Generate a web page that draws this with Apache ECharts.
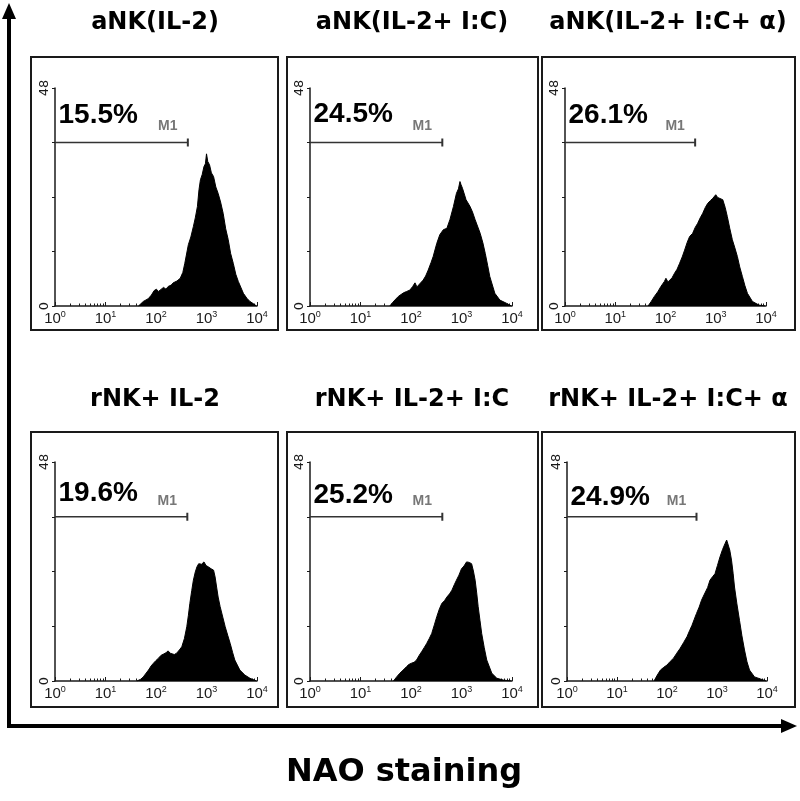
<!DOCTYPE html>
<html>
<head>
<meta charset="utf-8">
<script src="https://cdn.jsdelivr.net/npm/echarts@6/dist/echarts.min.js"></script>
<style>
  html, body { margin: 0; padding: 0; background: #fff; }
  #main { width: 800px; height: 801px; }
</style>
</head>
<body>
<div id="main"></div>
<script>
  // panels, left to right then top to bottom
  var panelNames = ['aNK(IL-2)', 'aNK(IL-2+ I:C)', 'aNK(IL-2+ I:C+ α)', 'rNK+ IL-2', 'rNK+ IL-2+ I:C', 'rNK+ IL-2+ I:C+ α'];
  var gatePercent = ['15.5%', '24.5%', '26.1%', '19.6%', '25.2%', '24.9%'];
  var gateEnd = [427, 417, 389, 417, 417, 389]; // M1 gate runs from 10^0 to here
  var gateLevel = 36;
  var xTicks = [1, 10, 100, 1000, 10000];
  var xMinorTicks = [2, 3, 4, 5, 6, 7, 8, 9, 20, 30, 40, 50, 60, 70, 80, 90,
    200, 300, 400, 500, 600, 700, 800, 900, 2000, 3000, 4000, 5000, 6000, 7000, 8000, 9000];
  var yLabelled = [0, 48];

  // [intensity, events]
  var hist1 = [[45, 0], [56, 1.0], [70, 1.6], [81, 2.4], [92, 3.4], [102, 3.7], [112, 3.2], [120, 3.6], [141, 4.1],
    [158, 3.7], [174, 4.3], [200, 4.6], [219, 5.1], [260, 5.5], [302, 6.1], [340, 7.4], [372, 9.4], [437, 13.5],
    [490, 15.2], [550, 17.5], [600, 19.4], [661, 21.9], [710, 25.6], [759, 27.8], [820, 28.9], [891, 30.7],
    [950, 31.3], [1000, 33.5], [1060, 31.8], [1148, 31.1], [1250, 29.3], [1380, 28.5], [1530, 26.2], [1698, 24.8],
    [1900, 22.9], [2138, 20.4], [2400, 17.0], [2692, 14.6], [3000, 11.6], [3388, 9.4], [3800, 7.0], [4266, 5.4],
    [5370, 2.8], [6300, 1.7], [7244, 1.0], [8500, 0.5], [9772, 0]];
  var hist2 = [[38, 0], [46, 1.1], [56, 2.1], [71, 2.9], [82, 3.2], [95, 3.5], [108, 4.3], [120, 5.1], [131, 4.2],
    [141, 4.4], [174, 5.7], [195, 6.6], [219, 7.9], [250, 9.6], [275, 10.9], [324, 13.8], [372, 15.7], [437, 16.8],
    [470, 16.4], [513, 17.1], [589, 19.0], [692, 21.9], [794, 24.8], [870, 25.8], [933, 27.4], [980, 26.7],
    [1047, 25.9], [1230, 23.4], [1479, 21.9], [1650, 20.7], [1862, 19.0], [2344, 16.0], [2650, 13.9], [2951, 11.6],
    [3300, 8.9], [3631, 6.5], [4571, 2.8], [5754, 1.3], [7762, 0.6], [9772, 0]];
  var hist3 = [[45, 0], [52, 1.0], [60, 2.1], [70, 3.1], [81, 4.3], [95, 5.4], [102, 6.1], [112, 5.3], [120, 5.0],
    [135, 6.2], [151, 7.2], [170, 8.1], [191, 9.4], [215, 10.8], [240, 12.3], [270, 14.0], [302, 15.3], [347, 16.0],
    [390, 17.3], [437, 18.2], [490, 19.4], [550, 20.4], [620, 21.7], [692, 22.6], [780, 23.2], [871, 23.7],
    [940, 24.0], [1000, 24.5], [1090, 23.9], [1175, 24.1], [1380, 23.4], [1540, 21.7], [1698, 19.7], [1900, 17.1],
    [2138, 14.6], [2400, 12.8], [2692, 10.9], [3000, 8.6], [3388, 6.5], [3800, 4.5], [4266, 2.8], [5370, 1.0],
    [7244, 0.2], [9550, 0]];
  var hist4 = [[42, 0], [50, 0.4], [56, 0.9], [71, 2.4], [80, 3.3], [89, 3.9], [100, 4.5], [112, 5.0], [125, 5.6],
    [141, 5.9], [158, 6.2], [174, 6.6], [190, 6.1], [204, 5.7], [230, 5.8], [257, 6.1], [290, 6.8], [324, 7.5],
    [365, 9.3], [407, 11.9], [438, 14.4], [468, 17.0], [510, 19.8], [550, 22.1], [600, 23.9], [646, 25.0],
    [700, 25.7], [741, 25.4], [800, 25.6], [891, 26.1], [980, 25.3], [1096, 25.0], [1230, 24.6], [1380, 24.3],
    [1480, 22.8], [1585, 20.6], [1700, 18.4], [1862, 16.3], [2100, 14.0], [2344, 11.9], [2650, 9.9], [2951, 8.2],
    [3300, 6.2], [3631, 4.6], [4571, 2.4], [5754, 1.3], [7244, 0.6], [9772, 0]];
  var hist5 = [[45, 0], [52, 0.9], [60, 1.7], [70, 2.4], [81, 3.1], [90, 3.6], [102, 3.9], [115, 4.1], [129, 4.6],
    [145, 5.6], [162, 6.4], [182, 7.3], [204, 8.2], [230, 9.3], [257, 10.4], [290, 12.3], [324, 14.1], [365, 15.8],
    [407, 17.0], [460, 17.6], [513, 18.4], [580, 19.1], [646, 19.9], [720, 21.1], [794, 22.1], [890, 23.2],
    [1000, 24.6], [1120, 25.2], [1259, 26.1], [1420, 26.0], [1585, 25.7], [1720, 24.1], [1862, 22.1], [2000, 19.3],
    [2138, 16.3], [2320, 13.3], [2512, 10.4], [2820, 7.3], [3162, 4.6], [3981, 1.7], [5012, 0.6], [6761, 0.2], [9772, 0]];
  var hist6 = [[55, 0], [64, 1.3], [74, 2.4], [86, 3.0], [100, 3.5], [116, 4.3], [135, 5.0], [157, 6.1], [182, 7.1],
    [214, 8.4], [251, 9.7], [282, 11.0], [316, 12.2], [350, 13.5], [389, 14.8], [440, 16.2], [490, 17.7],
    [530, 18.5], [575, 18.8], [650, 20.5], [724, 22.1], [820, 22.9], [912, 23.5], [1020, 25.3], [1148, 27.2],
    [1290, 28.8], [1445, 30.1], [1560, 30.9], [1660, 30.5], [1800, 28.7], [1950, 26.5], [2100, 23.6], [2239, 20.6],
    [2500, 16.9], [2818, 13.3], [3150, 9.9], [3548, 6.8], [3980, 4.2], [4467, 2.4], [5623, 0.9], [7586, 0.4], [9550, 0]];
  var histograms = [hist1, hist2, hist3, hist4, hist5, hist6];

  // layout (px)
  var gridLeft = [55, 310, 565, 55, 310, 567];
  var gridTop = [88, 88, 88, 462, 462, 462];
  var gridWidth = [202, 202, 201, 202, 202, 200];
  var gridHeight = [218, 218, 218, 219, 219, 219];
  var boxLeft = [31, 287, 542, 31, 287, 542];
  var boxTop = [57, 57, 57, 432, 432, 432];
  var boxWidth = [247, 251, 253, 247, 251, 253];
  var boxHeight = [273, 273, 273, 275, 275, 275];
  var titleCenter = [155, 412, 668, 155, 412, 668];
  var titleTop = [11, 11, 11, 388, 388, 388];
  var pctLift = [27, 28, 27, 23, 21, 19];

  var ink = '#1a1a1a';
  var narrow = "'Liberation Sans Narrow', 'Liberation Sans', Arial, sans-serif";
  var bold = "'DejaVu Sans', sans-serif";

  var myChart = echarts.init(document.getElementById('main'));

  var grids = [], xAxes = [], yAxes = [], series = [], titles = [], graphics = [];

  for (var i = 0; i < 6; i++) {
    grids.push({ left: gridLeft[i], top: gridTop[i], width: gridWidth[i], height: gridHeight[i], containLabel: false });

    titles.push({
      text: panelNames[i], left: titleCenter[i], top: titleTop[i], textAlign: 'center', padding: 0,
      textStyle: { fontFamily: bold, fontWeight: 'bold', fontSize: 24, color: '#000' }
    });

    // decades + labels
    xAxes.push({
      type: 'log', logBase: 10, gridIndex: i, min: 1, max: 10000, position: 'bottom',
      axisLine: { show: true, onZero: false, lineStyle: { color: ink, width: 1.5 } },
      axisTick: { show: true, inside: true, length: 4, customValues: xTicks, lineStyle: { color: ink, width: 1 } },
      axisLabel: {
        show: true, customValues: xTicks, margin: 4,
        formatter: function (v) { return '{b|10}{s|' + Math.round(Math.log10(v)) + '}'; },
        rich: {
          b: { fontFamily: narrow, fontSize: 15, color: ink, lineHeight: 17 },
          s: { fontFamily: narrow, fontSize: 9, color: ink, lineHeight: 10, verticalAlign: 'top' }
        }
      },
      splitLine: { show: false }
    });
    // log minor ticks
    xAxes.push({
      type: 'log', logBase: 10, gridIndex: i, min: 1, max: 10000, position: 'bottom',
      axisLine: { show: false },
      axisTick: { show: true, inside: true, length: 2.5, customValues: xMinorTicks, lineStyle: { color: ink, width: 1 } },
      axisLabel: { show: false },
      splitLine: { show: false }
    });

    yAxes.push({
      type: 'value', gridIndex: i, min: 0, max: 48, interval: 12,
      axisLine: { show: true, onZero: false, lineStyle: { color: ink, width: 1.5 } },
      axisTick: { show: true, inside: false, length: 3, lineStyle: { color: ink } },
      axisLabel: {
        rotate: 90, margin: 4, fontFamily: "'DejaVu Sans', sans-serif", fontSize: 13, color: ink,
        formatter: function (v) { return yLabelled.indexOf(v) >= 0 ? String(v) : ''; }
      },
      splitLine: { show: false }
    });

    series.push({
      type: 'line', xAxisIndex: 2 * i, yAxisIndex: i, data: histograms[i],
      symbol: 'none', silent: true, z: 2,
      lineStyle: { color: '#000', width: 1 },
      areaStyle: { color: '#000', opacity: 1 }
    });

    series.push({
      type: 'line', xAxisIndex: 2 * i, yAxisIndex: i, silent: true, z: 3,
      lineStyle: { color: '#333', width: 1.5 },
      itemStyle: { color: '#333' },
      data: [
        {
          value: [1, gateLevel], symbol: 'circle', symbolSize: 1, itemStyle: { color: 'transparent' },
          label: {
            show: true, formatter: gatePercent[i], position: [4, -pctLift[i]], verticalAlign: 'middle', align: 'left',
            fontFamily: "'Liberation Sans', Arial, sans-serif", fontWeight: 'bold', fontSize: 28, color: '#000'
          }
        },
        {
          value: [gateEnd[i], gateLevel], symbol: 'rect', symbolSize: [2, 8],
          label: {
            show: true, formatter: 'M1', position: 'top', distance: 5, offset: [-20, 0],
            fontFamily: narrow, fontWeight: 'bold', fontSize: 14, color: '#777'
          }
        }
      ]
    });

    graphics.push({
      type: 'rect', silent: true,
      shape: { x: boxLeft[i], y: boxTop[i], width: boxWidth[i], height: boxHeight[i] },
      style: { fill: 'none', stroke: ink, lineWidth: 2 }
    });
  }

  titles.push({
    text: 'NAO staining', left: 404, top: 757, textAlign: 'center', padding: 0,
    textStyle: { fontFamily: bold, fontWeight: 'bold', fontSize: 32, color: '#000' }
  });

  // big axis arrows
  graphics.push(
    { type: 'line', silent: true, shape: { x1: 9, y1: 728, x2: 9, y2: 16 }, style: { stroke: '#000', lineWidth: 4 } },
    { type: 'polygon', silent: true, shape: { points: [[9, 3], [2, 19], [16, 19]] }, style: { fill: '#000' } },
    { type: 'line', silent: true, shape: { x1: 7, y1: 726, x2: 784, y2: 726 }, style: { stroke: '#000', lineWidth: 4 } },
    { type: 'polygon', silent: true, shape: { points: [[797, 726], [781, 719], [781, 733]] }, style: { fill: '#000' } }
  );

  var option = {
    backgroundColor: '#fff',
    animation: false,
    title: titles,
    grid: grids,
    xAxis: xAxes,
    yAxis: yAxes,
    series: series,
    graphic: graphics
  };
  myChart.setOption(option);
</script>
</body>
</html>
